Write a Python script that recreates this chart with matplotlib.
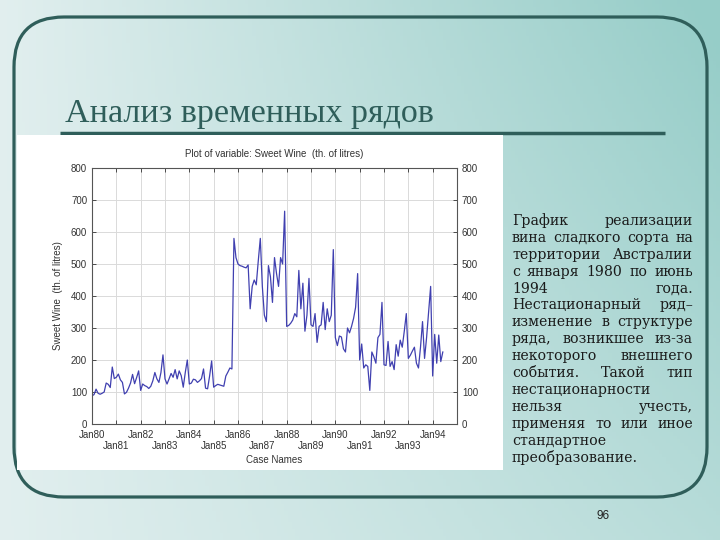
import numpy as np
import matplotlib.pyplot as plt
from matplotlib.patches import FancyBboxPatch, Rectangle

# Sweet wine sales, th. of litres, monthly Jan 1980 - Jun 1994
sales_1980 = [88, 92, 109, 96, 93, 96, 100, 128, 124, 114, 178, 142]
sales_1981 = [146, 156, 138, 130, 94, 99, 112, 128, 155, 126, 145, 166]
sales_1982 = [105, 125, 120, 117, 111, 118, 135, 161, 141, 130, 161, 216]
sales_1983 = [141, 125, 141, 158, 146, 170, 141, 166, 151, 115, 161, 200]
sales_1984 = [125, 128, 140, 138, 130, 135, 142, 172, 112, 110, 150, 197]
sales_1985 = [115, 120, 124, 122, 120, 118, 150, 162, 175, 172, 580, 520]
sales_1986 = [500, 495, 493, 490, 488, 497, 360, 430, 450, 435, 510, 580]
sales_1987 = [430, 340, 320, 495, 460, 380, 520, 470, 430, 520, 500, 665]
sales_1988 = [305, 308, 315, 325, 345, 335, 480, 360, 440, 290, 340, 455]
sales_1989 = [310, 305, 345, 255, 305, 310, 380, 295, 360, 320, 340, 545]
sales_1990 = [270, 245, 275, 272, 235, 225, 300, 285, 305, 330, 365, 470]
sales_1991 = [200, 250, 175, 185, 180, 105, 225, 210, 190, 270, 280, 380]
sales_1992 = [185, 183, 258, 180, 195, 170, 248, 212, 262, 240, 290, 345]
sales_1993 = [205, 215, 228, 240, 190, 175, 240, 320, 205, 270, 350, 430]
sales_1994 = [150, 280, 190, 278, 195, 225]

sales = (sales_1980 + sales_1981 + sales_1982 + sales_1983 + sales_1984
         + sales_1985 + sales_1986 + sales_1987 + sales_1988 + sales_1989
         + sales_1990 + sales_1991 + sales_1992 + sales_1993 + sales_1994)
years = list(range(80, 95))
year_labels = [f"Jan{y}" if k % 2 == 0 else f"\nJan{y}" for k, y in enumerate(years)]

slide_title = "Анализ временных рядов"
desc_lines = [
    "График реализации",
    "вина сладкого сорта на",
    "территории Австралии",
    "с января 1980 по июнь",
    "1994 года.",
    "Нестационарный ряд–",
    "изменение в структуре",
    "ряда, возникшее из-за",
    "некоторого внешнего",
    "события. Такой тип",
    "нестационарности",
    "нельзя учесть,",
    "применяя то или иное",
    "стандартное",
    "преобразование.",
]
page_no = "96"

W, H = 720, 540
fig = plt.figure(figsize=(7.2, 5.4), dpi=100)

# slide background in pixel coordinates
bg = fig.add_axes([0, 0, 1, 1])
bg.set_xlim(0, W)
bg.set_ylim(H, 0)
bg.axis("off")

xx, yy = np.meshgrid(np.linspace(0, 1, 200), np.linspace(0, 1, 150))
t = np.clip(xx * (1 - 0.45 * yy) + 0.03, 0, 1)[..., None]
light = np.array([228, 240, 240]) / 255
teal = np.array([150, 205, 200]) / 255
bg.imshow(light * (1 - t) + teal * t, extent=(0, W, H, 0), aspect="auto", zorder=0)

border = FancyBboxPatch((14, 17), 693, 480, boxstyle="round,pad=0,rounding_size=50",
                        fill=False, edgecolor="#2f5e5a", linewidth=2.3, zorder=1)
bg.add_patch(border)

bg.text(65, 122, slide_title, fontsize=24.5, family="Liberation Serif",
        color="#2f5e5a", va="baseline", ha="left")
bg.plot([60, 665], [133, 133], color="#2f5e5a", lw=2.5, solid_capstyle="butt", zorder=2)
bg.add_patch(Rectangle((17, 135), 486, 335, facecolor="white", edgecolor="none", zorder=3))
bg.text(603, 516, page_no, fontsize=8.5, family="Liberation Sans",
        color="#222222", ha="center", va="center")

# justified description block
renderer = fig.canvas.get_renderer()
x_left, x_right = 512, 693
y0, dy = 221, 16.9
for n, line in enumerate(desc_lines):
    y = y0 + n * dy
    words = line.split()
    objs = [bg.text(0, y, w, fontsize=10.2, family="DejaVu Serif", color="#1a1a1a",
                    ha="left", va="center") for w in words]
    widths = [o.get_window_extent(renderer).width for o in objs]
    gap = (x_right - x_left - sum(widths)) / (len(words) - 1) if len(words) > 1 else 0
    x = x_left
    for o, w in zip(objs, widths):
        o.set_x(x)
        x += w + gap

# the chart itself
ax = fig.add_axes([92 / W, 1 - 424 / H, (457 - 92) / W, (424 - 168) / H])
ax.set_zorder(5)
ax.plot(np.arange(len(sales)), sales, color="#4040b0", lw=0.9)
ax.set_xlim(0, 180)
ax.set_ylim(0, 800)
ax.set_xticks([12 * k for k in range(len(years))])
ax.set_xticklabels(year_labels, va="top")
ax.set_yticks(range(0, 801, 100))
ax.grid(True, color="#dadada", lw=0.7)
ax.tick_params(direction="in", top=True, right=True, labelright=True,
               labelsize=7, colors="#333333", length=3, width=0.6)
ax.tick_params(axis="x", pad=4)
for lab in ax.get_xticklabels() + ax.get_yticklabels():
    lab.set_family("Liberation Sans")
for s in ax.spines.values():
    s.set_color("#555555")
    s.set_linewidth(0.8)
ax.set_title("Plot of variable: Sweet Wine  (th. of litres)", fontsize=7,
             family="Liberation Sans", color="#333333", pad=8)
ax.set_xlabel("Case Names", fontsize=7, family="Liberation Sans", color="#333333", labelpad=3)
ax.set_ylabel("Sweet Wine  (th. of litres)", fontsize=7, family="Liberation Sans",
              color="#333333", labelpad=6)

fig.savefig("out.png", dpi=100)
